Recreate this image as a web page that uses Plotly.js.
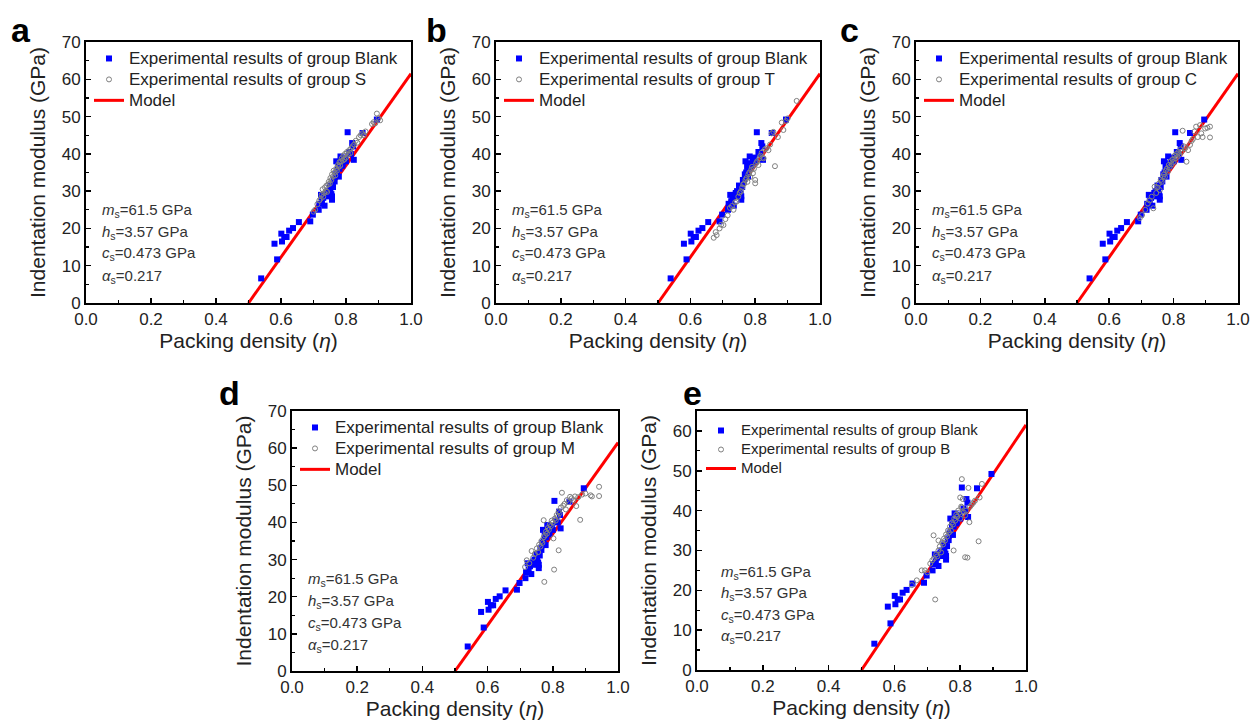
<!DOCTYPE html>
<html>
<head>
<meta charset="utf-8">
<script src="https://cdn.plot.ly/plotly-3.0.1.min.js"></script>
<style>html,body{margin:0;padding:0;background:#fff;}#chart{width:1255px;height:722px;}</style>
</head>
<body>
<div id="chart"></div>
<script>
// ---------------- data ----------------
const blankEta = [0.539,0.580,0.588,0.601,0.603,0.610,0.617,0.625,0.637,0.655,0.690,0.698,0.716,0.718,0.723,0.726,0.730,0.734,0.737,0.740,0.744,0.747,0.750,0.752,0.755,0.757,0.757,0.760,0.762,0.765,0.768,0.770,0.772,0.775,0.778,0.780,0.783,0.785,0.788,0.790,0.793,0.797,0.800,0.805,0.810,0.815,0.819,0.822,0.824,0.851,0.895];
const blankM   = [6.6,15.9,11.7,18.6,16.5,17.7,17.7,19.4,20.1,21.7,21.9,23.7,25.0,26.6,29.0,27.3,28.2,26.1,29.0,29.5,30.0,28.6,31.5,30.4,29.2,27.7,28.6,31.1,33.0,32.6,34.5,38.0,35.0,36.5,33.9,36.0,39.3,37.5,36.8,37.2,38.4,39.0,38.0,45.8,40.5,40.0,42.9,42.0,38.4,45.6,49.2];

const sEta = [0.700,0.705,0.712,0.718,0.722,0.725,0.728,0.730,0.733,0.735,0.738,0.740,0.742,0.745,0.747,0.750,0.752,0.755,0.757,0.760,0.762,0.765,0.767,0.770,0.772,0.775,0.777,0.780,0.782,0.785,0.787,0.790,0.792,0.795,0.797,0.800,0.803,0.806,0.810,0.813,0.816,0.820,0.825,0.830,0.835,0.840,0.845,0.850,0.855,0.860,0.880,0.885,0.890,0.895,0.900,0.905];
const sM   = [24.5,25.0,26.5,27.5,28.0,29.0,30.5,28.5,29.5,31.0,30.0,31.5,29.8,31.8,32.5,32.0,33.5,33.0,34.5,34.0,35.5,35.0,34.2,36.0,35.5,37.0,36.5,37.8,36.8,38.0,38.8,38.2,39.5,38.5,40.0,39.0,40.5,39.8,41.0,40.2,41.5,42.0,42.5,43.5,43.0,44.5,45.0,45.5,45.0,46.0,48.0,48.5,48.2,50.8,49.5,49.0];

const tEta = [0.672,0.678,0.681,0.690,0.695,0.702,0.708,0.715,0.722,0.728,0.733,0.738,0.743,0.748,0.752,0.756,0.760,0.763,0.766,0.770,0.773,0.776,0.779,0.782,0.785,0.788,0.790,0.793,0.796,0.800,0.800,0.803,0.806,0.810,0.813,0.816,0.820,0.823,0.826,0.830,0.835,0.841,0.846,0.851,0.856,0.861,0.870,0.882,0.887,0.895,0.900,0.928];
const tM   = [17.5,19.0,18.2,20.0,21.0,20.9,22.5,23.5,25.5,26.0,25.0,27.0,27.2,28.5,29.5,30.0,31.0,31.8,32.0,33.0,33.5,32.5,34.5,35.0,33.8,35.8,36.5,34.8,36.0,33.0,32.1,37.5,38.0,37.0,38.8,39.5,40.3,39.0,38.8,41.2,41.5,41.0,42.5,45.5,45.9,36.7,44.5,48.4,46.4,48.8,49.5,54.2];

const cEta = [0.695,0.702,0.712,0.720,0.726,0.732,0.737,0.741,0.746,0.750,0.754,0.757,0.760,0.763,0.767,0.770,0.773,0.776,0.779,0.782,0.785,0.788,0.791,0.794,0.797,0.800,0.803,0.806,0.809,0.812,0.815,0.818,0.821,0.824,0.828,0.832,0.836,0.840,0.845,0.851,0.856,0.860,0.865,0.870,0.875,0.882,0.886,0.890,0.898,0.905,0.913,0.913];
const cM   = [22.8,23.6,25.0,26.7,27.5,28.5,25.4,31.2,29.5,31.0,32.0,30.3,33.0,32.5,33.9,34.5,33.8,35.5,36.0,35.2,37.0,36.5,38.0,37.2,38.5,37.8,39.5,38.8,40.0,39.2,40.5,39.8,41.2,40.5,46.2,42.0,41.5,37.9,41.0,42.4,43.5,44.0,46.0,47.3,44.5,47.7,45.5,44.5,46.8,47.0,47.3,44.4];

const mEta = [0.715,0.720,0.728,0.735,0.740,0.745,0.751,0.755,0.758,0.762,0.765,0.768,0.772,0.772,0.774,0.776,0.779,0.782,0.785,0.788,0.791,0.794,0.797,0.800,0.802,0.804,0.806,0.809,0.812,0.815,0.818,0.818,0.821,0.825,0.828,0.832,0.836,0.840,0.843,0.848,0.853,0.858,0.863,0.868,0.872,0.878,0.884,0.890,0.900,0.916,0.920,0.942,0.942];
const mM   = [28.0,29.8,29.0,32.3,30.5,31.5,33.0,32.0,34.0,33.5,35.0,34.5,36.0,40.6,24.0,36.5,37.5,37.0,38.5,38.0,39.5,39.0,40.5,40.0,35.7,27.3,41.0,40.5,42.0,41.5,32.5,43.0,42.5,44.0,48.0,44.5,45.0,43.5,46.0,45.5,46.9,46.5,46.0,47.0,44.4,46.8,40.7,47.5,47.8,47.3,47.0,49.6,47.1];

const bEta = [0.653,0.668,0.683,0.693,0.700,0.709,0.715,0.719,0.720,0.724,0.727,0.730,0.734,0.734,0.738,0.742,0.745,0.748,0.751,0.754,0.757,0.760,0.763,0.766,0.769,0.772,0.775,0.778,0.780,0.782,0.785,0.788,0.791,0.794,0.797,0.800,0.800,0.803,0.805,0.805,0.808,0.811,0.815,0.815,0.818,0.822,0.825,0.828,0.830,0.835,0.840,0.845,0.856,0.859,0.866];
const bM   = [21.3,22.5,25.0,25.0,24.5,26.7,27.5,33.8,28.0,17.7,29.0,28.5,32.5,30.0,31.0,29.5,32.0,31.5,33.0,32.5,34.0,33.5,35.0,34.5,36.0,35.0,37.0,36.5,30.0,38.0,37.5,39.0,38.5,40.0,39.5,43.3,38.0,41.0,40.8,47.9,42.9,39.5,38.8,28.3,40.0,28.2,45.7,37.1,41.0,41.5,42.0,42.5,32.3,43.3,46.7];

const modelEta = [0.5, 0.6, 0.7, 0.8, 0.9, 1.0];
const modelM   = [0, 12.3, 24.6, 36.9, 49.2, 61.5];

const panelLetters = ['a','b','c','d','e'];
const groupNames = ['S','T','C','M','B'];
const groupEta = [sEta, tEta, cEta, mEta, bEta];
const groupM = [sM, tM, cM, mM, bM];
const paramLines = ['<i>m</i><sub>s</sub>=61.5 GPa','<i>h</i><sub>s</sub>=3.57 GPa','<i>c</i><sub>s</sub>=0.473 GPa','<i>α</i><sub>s</sub>=0.217'];
const yMax = [70, 70, 70, 70, 65];
const yTicks = [[0,10,20,30,40,50,60,70],[0,10,20,30,40,50,60,70],[0,10,20,30,40,50,60,70],[0,10,20,30,40,50,60,70],[0,10,20,30,40,50,60]];
const xTicks = [0, 0.2, 0.4, 0.6, 0.8, 1.0];
const xTickText = ['0.0','0.2','0.4','0.6','0.8','1.0'];

// ---------------- layout geometry (pixels) ----------------
const W = 1255, H = 722;
const px = v => v / W;
const py = v => 1 - v / H;
const boxes = [
  {l: 86,  r: 411,  t: 42,  b: 303},
  {l: 496, r: 820,  t: 42,  b: 303},
  {l: 916, r: 1238, t: 42,  b: 303},
  {l: 292, r: 618,  t: 411, b: 671},
  {l: 697, r: 1026, t: 411, b: 670}
];
const letterPos = [[-65, -12], [-60, -12], [-67, -12], [-63, -18], [-5, -18]];
const FONT = 'Liberation Sans, Arial, Helvetica, sans-serif';

const data = [];
const layout = {
  width: W, height: H,
  margin: {l: 0, r: 0, t: 0, b: 0},
  paper_bgcolor: '#fff', plot_bgcolor: '#fff',
  font: {family: FONT, color: '#222'},
  showlegend: true,
  annotations: []
};

const big = s => '<span style="font-size:17px">' + s + '</span>';
const smallTxt = s => '<span style="font-size:15px">' + s + '</span>';

boxes.forEach((bx, i) => {
  const n = i + 1;
  const xa = n === 1 ? 'x' : 'x' + n;
  const ya = n === 1 ? 'y' : 'y' + n;
  const lg = n === 1 ? 'legend' : 'legend' + n;
  const small = (i === 4);
  const wrap = small ? smallTxt : big;

  data.push({
    x: modelEta, y: modelM, xaxis: xa, yaxis: ya, legend: lg,
    type: 'scatter', mode: 'lines', name: wrap('Model'), legendrank: 3,
    line: {color: '#ff0000', width: 3}, hoverinfo: 'skip'
  });
  data.push({
    x: blankEta, y: blankM, xaxis: xa, yaxis: ya, legend: lg,
    type: 'scatter', mode: 'markers', name: wrap('Experimental results of group Blank'), legendrank: 1,
    marker: {symbol: 'square', size: 6, color: '#0000ff', line: {width: 0}}
  });
  data.push({
    x: groupEta[i], y: groupM[i], xaxis: xa, yaxis: ya, legend: lg,
    type: 'scatter', mode: 'markers', name: wrap('Experimental results of group ' + groupNames[i]), legendrank: 2,
    marker: {symbol: 'circle-open', size: 5, color: '#808080', line: {width: 1, color: '#808080'}}
  });

  const axCommon = {
    showline: true, linecolor: '#000', linewidth: 2, mirror: true,
    showgrid: false, zeroline: false,
    ticks: 'inside', ticklen: 5, tickwidth: 1.5, tickcolor: '#000',
    tickfont: {size: 17, family: FONT, color: '#222'},
    minor: {ticks: 'inside', ticklen: 3, tickwidth: 1.2, tickcolor: '#000', showgrid: false}
  };
  layout[n === 1 ? 'xaxis' : 'xaxis' + n] = Object.assign({}, axCommon, {
    domain: [px(bx.l), px(bx.r)], anchor: ya,
    range: [0, 1], tickmode: 'array', tickvals: xTicks, ticktext: xTickText,
    minor: Object.assign({}, axCommon.minor, {dtick: 0.1, tick0: 0}),
    title: {text: 'Packing density (<i>η</i>)', font: {size: 21, family: FONT, color: '#222'}, standoff: 4}
  });
  layout[n === 1 ? 'yaxis' : 'yaxis' + n] = Object.assign({}, axCommon, {
    domain: [py(bx.b), py(bx.t)], anchor: xa,
    range: [0, yMax[i]], tickmode: 'array', tickvals: yTicks[i],
    minor: Object.assign({}, axCommon.minor, {dtick: 5, tick0: 0}),
    title: {text: 'Indentation modulus (GPa)', font: {size: 21, family: FONT, color: '#222'}, standoff: 10}
  });

  layout[lg] = {
    x: px(bx.l + (small ? 4 : 3)), xanchor: 'left',
    y: py(bx.t + (small ? 5 : 1)), yanchor: 'top',
    bgcolor: 'rgba(0,0,0,0)', borderwidth: 0,
    font: {size: small ? 11.6 : 13.8, family: FONT, color: '#222'},
    tracegroupgap: 0, traceorder: 'normal'
  };

  // parameter text
  const pStart = small ? 572 - 411 : 210 - 42;
  const pStep = small ? 21.5 : 22;
  paramLines.forEach((t, k) => {
    layout.annotations.push({
      xref: 'paper', yref: 'paper',
      x: px(bx.l + (small ? 22 : 14)), y: py(bx.t + pStart + k * pStep),
      xanchor: 'left', yanchor: 'middle', showarrow: false,
      text: t, font: {size: 15, family: FONT, color: '#333'}
    });
  });

  // panel letter
  layout.annotations.push({
    xref: 'paper', yref: 'paper',
    x: px(bx.l + letterPos[i][0]), y: py(bx.t + letterPos[i][1]),
    xanchor: 'center', yanchor: 'middle', showarrow: false,
    text: '<b>' + panelLetters[i] + '</b>', font: {size: 34, family: FONT, color: '#000'}
  });
});

Plotly.newPlot('chart', data, layout, {displayModeBar: false, staticPlot: true});
</script>
</body>
</html>
